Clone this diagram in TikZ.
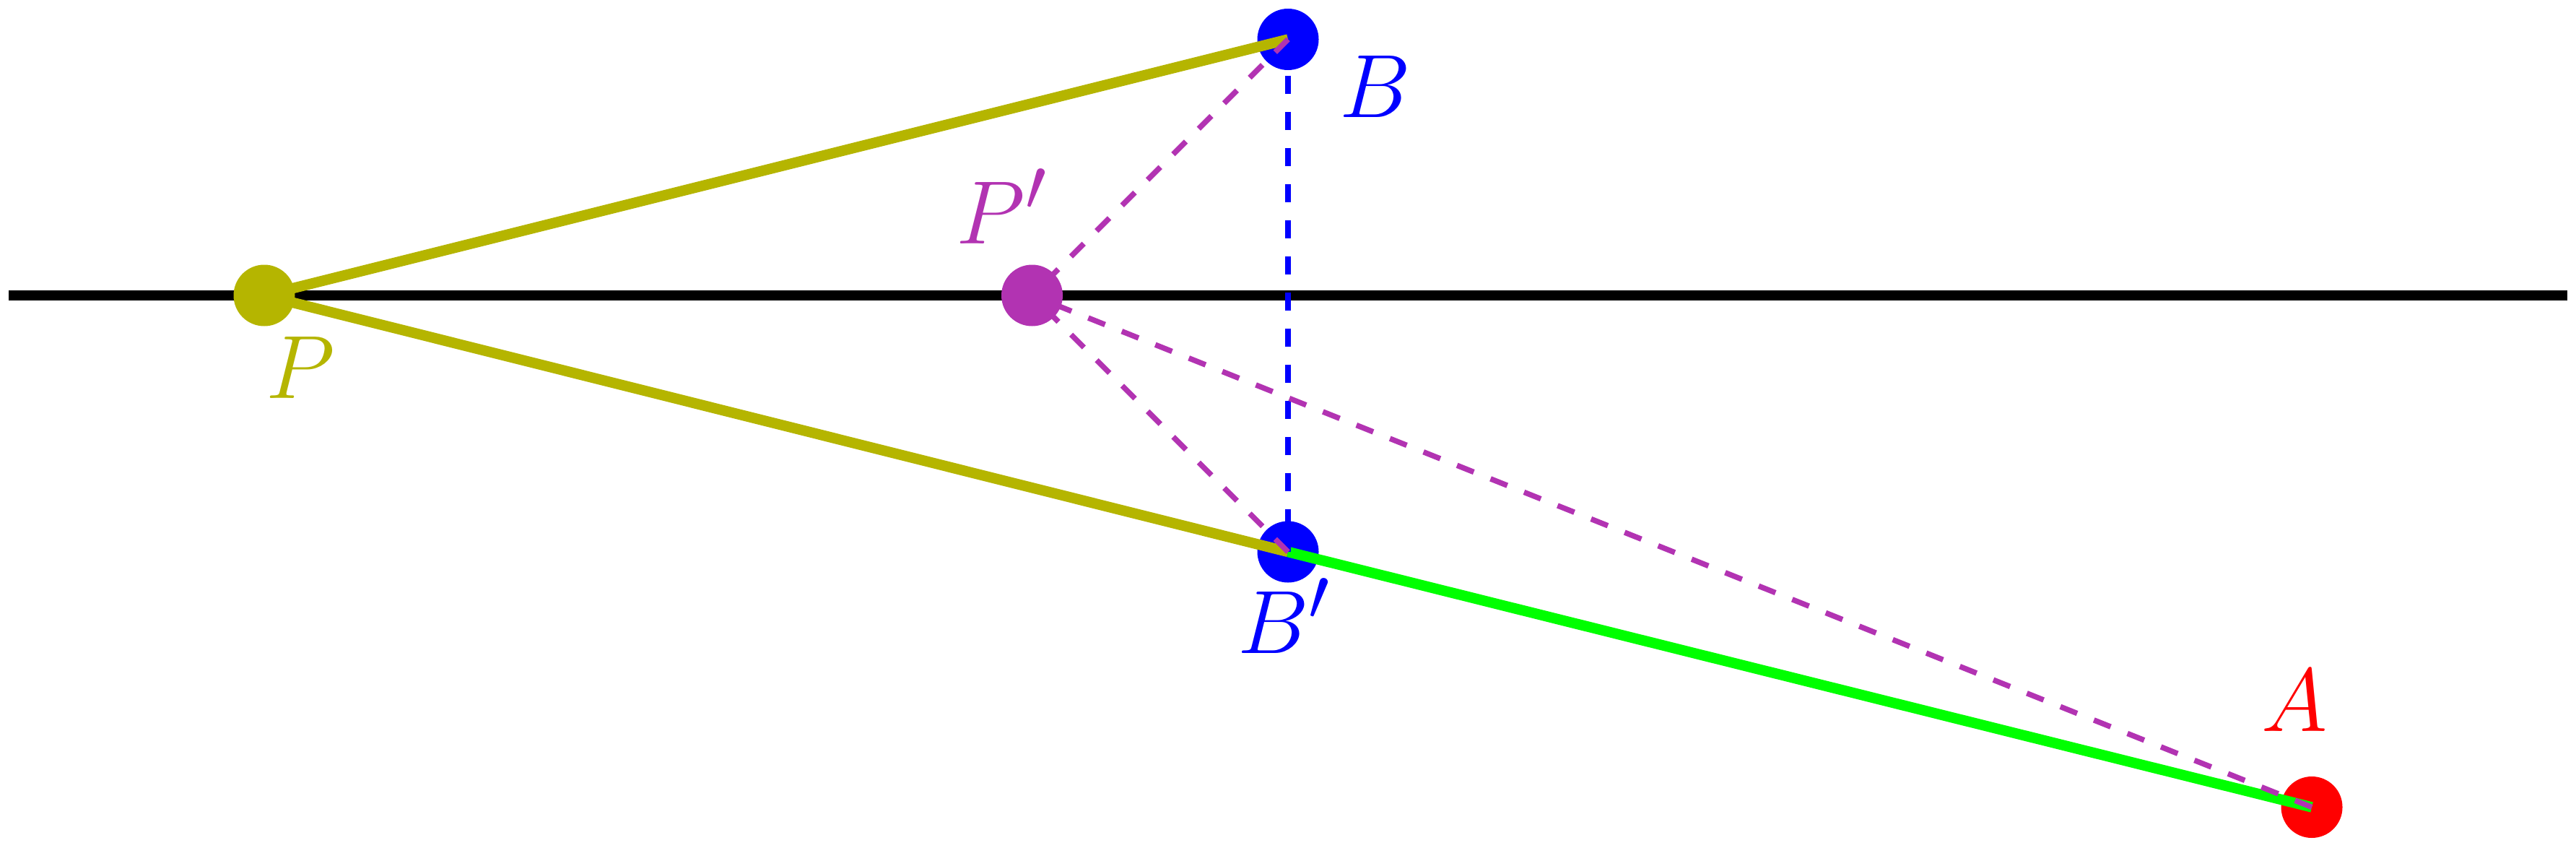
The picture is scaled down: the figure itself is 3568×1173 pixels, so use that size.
\documentclass[tikz,border=0pt]{standalone}
\definecolor{olivept}{RGB}{181,181,0}
\definecolor{magpt}{RGB}{178,51,178}
\begin{document}
\begin{tikzpicture}[x=0.2pt,y=-0.2pt,
  dot/.style={circle,inner sep=0pt,minimum size=17pt,draw=none},
  solidseg/.style={line width=2.9pt},
  dashseg/.style={line width=1.5pt,dash pattern=on 5pt off 5pt},
  lbl/.style={inner sep=0pt,anchor=base,font=\fontsize{24.88}{30}\selectfont}]
\useasboundingbox (0,0) rectangle (3568,1173);
\coordinate (L1) at (12,409);
\coordinate (L2) at (3556,409);
\draw[line width=2.9pt,black] (L1) -- (L2);
\node[dot,fill=olivept] (P) at (366,409) {};
\node[dot,fill=magpt] (Pp) at (1429.5,409) {};
\node[dot,fill=blue] (B) at (1784,54.5) {};
\node[dot,fill=blue] (Bp) at (1784,764) {};
\node[dot,fill=red] (A) at (3202,1117.5) {};
\draw[solidseg,olivept] (P.center) -- (B.center);
\draw[solidseg,olivept] (P.center) -- (Bp.center);
\draw[solidseg,green] (Bp.center) -- (A.center);
\draw[dashseg,blue] (B.center) -- (Bp.center);
\draw[dashseg,magpt] (B.center) -- (Pp.center);
\draw[dashseg,magpt] (Bp.center) -- (Pp.center);
\draw[dashseg,magpt] (A.center) -- (Pp.center);
\node[lbl,text=olivept] (Plbl) at (416,551) {$P$};
\node[lbl,text=magpt] (Pplbl) at (1388,337) {$P'$};
\node[lbl,text=blue] (Blbl) at (1905,162) {$B$};
\node[lbl,text=blue] (Bplbl) at (1779,904) {$B'$};
\node[lbl,text=red] (Albl) at (3178,1012) {$A$};
\end{tikzpicture}
\end{document}
